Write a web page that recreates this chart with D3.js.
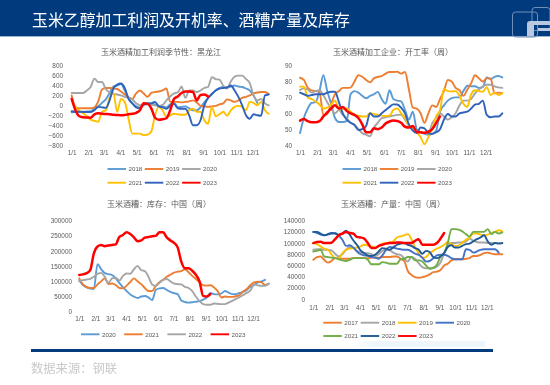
<!DOCTYPE html>
<html><head><meta charset="utf-8">
<script src="https://cdn.jsdelivr.net/npm/d3@7/dist/d3.min.js"></script>
<style>html,body{margin:0;padding:0;background:#fff}svg{display:block;filter:blur(0.5px)}text{font-family:"Noto Sans CJK SC","Noto Sans",sans-serif}</style>
</head><body><svg id="c" width="550" height="385"></svg>
<script>
const headerTitle="玉米乙醇加工利润及开机率、酒糟产量及库存";
const sourceNote="数据来源：钢联";
const monthLabels=["1/1","2/1","3/1","4/1","5/1","6/1","7/1","8/1","9/1","10/1","11/1","12/1"];
const monthStartDays=[0,31,59,90,120,151,181,212,243,273,304,334];

const profitTicks=[-800,-600,-400,-200,0,200,400,600,800];
const profit2018=[-140,-130,-130,-130,-125,-120,-60,-20,50,120,250,380,400,430,300,150,40,-20,-40,30,50,40,20,-10,-20,-40,20,60,-40,-30,-20,-60,-100,-100,-40,60,150,230,300,350,370,360,380,400,380,370,340,300,200,50];
const profit2019=[200,-40,-60,-60,-60,-60,-40,80,320,350,350,340,330,280,220,160,130,240,300,240,170,250,270,280,300,340,70,70,70,60,70,80,100,60,-10,-20,-30,-20,-10,20,40,120,100,70,100,150,170,200,240,260,270,270,230];
const profit2020=[250,250,250,250,300,370,540,470,470,330,260,230,220,200,170,150,120,40,0,20,20,10,0,-10,10,100,180,240,260,380,150,300,300,270,300,350,370,570,530,520,400,340,480,580,600,600,530,450,200,100,130,40,0];
const profit2021=[100,-30,-110,-160,-220,-290,-310,-330,-130,-100,150,250,-130,130,70,-270,-570,-570,-570,-600,-590,-530,-200,-30,-100,-230,-200,-170,-180,-190,-190,-100,-70,-130,-130,-300,-370,-30,-220,-180,-130,-210,-100,-30,-10,-30,-100,70,50,0,70,-100,-170];
const profit2022=[-120,-130,-130,-135,-135,-135,-100,-30,-40,-50,100,340,420,440,350,130,40,-40,-60,10,30,40,70,-20,-40,-70,-10,30,-60,-70,-70,-200,-400,-400,-300,0,150,230,300,340,350,360,400,300,170,0,-200,-270,-180,-200,-210,200,220];
const profit2023=[130,-100,-220,-240,-245,-250,-180,-160,-170,-175,-180,-190,-195,-200,-195,-180,-170,-150,-100,40,30,-60,-250,-290,-280,-260,-100,130,180,250,280,280,270,100,210,220,180];

const rateTicks=[40,50,60,70,80,90];
const rate2018=[47.5,57,63,66.5,67,74,84,74,66,57,54.5,54.5,55,72,74,73,71,69.5,71,72,73.5,69,66,74.5,69,68,67.5,62,56,61,50,48,47,46.5,47,49,61,65,68,69.5,70,70,74,77.4,77,77,76,76.5,82.6,81.5,83,83.5,82.6];
const rate2019=[82.4,81,76,74.5,74,73.5,59,59.5,66,72,74,76,76,76.2,80,84,83,81,79.5,82,83,83.5,85,86,86,86.2,85,86,75,63.5,63,60,54,60,65,64,69,74,81,80,76,74.5,71,75,79,84,82,80,82,82,72.6,73,72.6];
const rate2020=[74.7,75.7,75,73,74,74.5,71.5,67,63,60,62,59,57,54,53,50,47.5,46.5,45.5,51,54,57,57.5,58,58.5,59,59,56,52,49.5,49,48,47.5,47,53.7,57,60,58,56,57.5,60,65,68,68,69,72.6,75,77,78,78,77,76.3,76];
const rate2021=[76.8,76.8,70,69,67.5,65.5,63,63.5,65.5,68,63,62.5,63,61,59,58.5,58,58,60,59.5,59,58.5,58.3,58.5,62,63,60,57,52,50.5,48,45,40.5,45,50.5,58,62,75.5,74,73.8,74,71,66,64,72,74.5,74,73.6,76.5,71.5,73,71.5,72.6];
const rate2022=[73,72,71,71.5,72,72,72,73,73.6,73.6,67,60,56,54,52.5,49.5,50,52,60,58,58,60,62,64,65.6,65.5,63.5,60,53,49,47.5,51,50.5,47.5,47,48,50,56,59.5,58,58,60,60.5,61,63,65.5,66,68,59,57.5,58,58,60];
const rate2023=[55.4,56.4,55,54.3,54.3,55,58,60.5,63,65,63,64,61.5,60,59,57,53,48,48,50.5,50,51,53.5,54.8,55.4,55.2,54,51.5,51,52,48.2,48,47.8,48.5,50,54,58];

const stockTicks=[0,50000,100000,150000,200000,250000,300000];
const stock2020=[104000,88000,80000,76000,75000,157000,140000,127000,124000,121000,110000,95000,80000,68000,57000,50000,45000,50000,52000,47000,38000,72000,77000,78000,72000,65000,61000,58000,37000,32000,30000,31000,33000,35000,40000,47000,62000,58000,57000,60000,68000,63000,58000,58000,62000,65000,72000,82000,88000,97000,100000,105000];
const stock2021=[110000,90000,82000,78000,78000,90000,100000,110000,91000,93000,88000,78000,77000,86000,98000,110000,100000,91000,78000,68000,68000,85000,97000,105000,115000,122000,129000,132000,134000,140000,130000,118000,108000,97000,87000,86000,87000,80000,68000,47000,50000,49000,49000,51000,55000,67000,75000,88000,97000,99000,97000,88000,92000];
const stock2022=[100000,104000,106000,108000,115000,125000,128000,115000,95000,110000,112000,103000,118000,126000,125000,140000,151000,137000,134000,115000,90000,85000,95000,105000,108000,100000,93000,91000,90000,82000,78000,68000,50000,35000,25000,23000,23000,27000,26000,25000,25000,30000,36000,42000,48000,55000,62000,70000,90000,87000,85000,85000,93000];
const stock2023=[121000,123000,127000,137000,192000,215000,220000,216000,218000,220000,222000,247000,253000,262000,256000,245000,232000,235000,244000,246000,249000,250000,262000,262000,245000,235000,227000,212000,165000,143000,143000,135000,122000,100000,52000,50000,58000];

const outputTicks=[0,20000,40000,60000,80000,100000,120000,140000];
const output2017=[70,75,76,70,65,68,73,73,72,72,72,73,73,73,73,73,74,74,74,75,75,75,76,76,72,68,50,43,39,38,39,41,44,48,49,52,60,63,69,71,71,71,72,73,77,77,79,82,83,81,80,80,80];
const output2018=[88,89,89,88,88,87,81,76,80,88,93,92,86,83,82,82,80,77,80,86,88,87,83,80,79,73,67,75,72,64,57,55,55,55,58,65,82,95,100,100,101,101,103,108,104,102,101,101,100,100,100,100,100];
const output2019=[100,98,94,90,88,80,73,73,82,88,90,91,92,94,97,96,94,92,94,99,100,101,103,110,112,114,116,107,92,82,74,75,82,86,90,93,97,102,98,95,96,101,106,110,117,117,115,114,115,118,120,123,121];
const output2020=[120,118,115,114,115,117,118,113,106,95,96,92,85,80,78,77,75,74,72,78,88,93,92,90,89,88,88,85,81,79,74,67,68,73,78,79,79,77,73,71,71,71,89,88,83,85,88,89,89,89,89,83];
const output2021=[85,86,88,76,75,74,73,71,69,68,70,73,73,73,73,70,62,62,62,66,65,63,63,63,71,72,75,75,69,69,67,60,54,56,61,76,82,100,125,125,124,121,116,112,120,120,120,120,125,116,120,117,119];
const output2022=[120,120,117,114,116,118,117,115,117,122,115,105,97,87,82,78,77,79,85,91,90,88,92,97,99,100,97,95,91,88,81,86,84,75,73,76,82,93,96,92,92,95,98,99,103,107,110,114,103,97,100,99,100];
const output2023=[100,102,102.5,100,100,100.7,107,114,117,120,118,117,111,110,108,100,91,91,95,97,99,100,100,101,101,100,100,100,104,107,97,97,97,97,100,108,118];
const outputUnit=1000;

const colors={blue:"#5b9bd5",orange:"#ed7d31",gray:"#a5a5a5",yellow:"#ffc000",royal:"#2f62bb",green:"#70ad47",navy:"#1f5a96",red:"#ff0000"};
const svg=d3.select("#c");
svg.append("rect").attr("x",0).attr("y",0).attr("width",550).attr("height",36).attr("fill","#013a7d");
svg.append("rect").attr("x",0).attr("y",36).attr("width",550).attr("height",1).attr("fill","#9db4d2");
svg.append("text").attr("x",32).attr("y",26).attr("fill","#fff").attr("font-size",15.9).text(headerTitle);
const logo=svg.append("g").attr("fill","none").attr("stroke","#6f8fbb").attr("stroke-width",1);
logo.append("rect").attr("x",512.5).attr("y",12).attr("width",25).attr("height",25).attr("rx",3);
logo.append("rect").attr("x",532).attr("y",7.5).attr("width",18).attr("height",23).attr("rx",3);
svg.append("path").attr("d","M527 36V24q0-3 3-3H550V25H534V36Z").attr("fill","#b8c8e0");
svg.append("rect").attr("x",538).attr("y",28).attr("width",12).attr("height",3).attr("fill","#b8c8e0");

function chart(o){
  const g=svg.append("g");
  const x=d3.scaleLinear().domain([0,364]).range([o.x0,o.x1]);
  const y=d3.scaleLinear().domain(d3.extent(o.ticks)).range([o.yBottom,o.yTop]);
  g.append("text").attr("x",o.titleX).attr("y",o.titleY).attr("text-anchor","middle").attr("font-size",8).attr("fill","#595959").text(o.title);
  const ya=g.append("g").attr("transform",`translate(${o.yLabelX},0)`).call(d3.axisLeft(y).tickValues(o.ticks).tickSize(0).tickPadding(0).tickFormat(d3.format("d")));
  ya.select(".domain").remove();
  ya.selectAll("text").attr("font-size",6.4).attr("fill","#595959").style("font-family",'"Liberation Sans",sans-serif');
  const xa=g.append("g").attr("transform",`translate(0,${o.xLabelY})`).call(d3.axisBottom(x).tickValues(monthStartDays).tickSize(0).tickPadding(0).tickFormat((d,i)=>monthLabels[i]));
  xa.select(".domain").remove();
  xa.selectAll("text").attr("font-size",6.4).attr("fill","#595959").style("font-family",'"Liberation Sans",sans-serif');
  const line=d3.line().x((d,i)=>x(i*7)).y(d=>y(d)).curve(d3.curveMonotoneX);
  o.series.forEach(s=>{
    g.append("path").attr("d",line(s.values)).attr("fill","none").attr("stroke",s.color).attr("stroke-width",s.color===colors.red?2.5:1.9).attr("stroke-linejoin","round").attr("stroke-linecap","round");
  });
  o.series.forEach((s,i)=>{
    const row=Math.floor(i/o.perRow), col=i%o.perRow;
    const lx=o.legX+col*o.legDx, ly=o.legY[row];
    g.append("line").attr("x1",lx).attr("x2",lx+18.5).attr("y1",ly).attr("y2",ly).attr("stroke",s.color).attr("stroke-width",1.9);
    g.append("text").attr("x",lx+21).attr("y",ly+2.2).attr("font-size",6.2).attr("fill","#595959").style("font-family",'"Liberation Sans",sans-serif').text(s.name);
  });
}
chart({title:"玉米酒精加工利润季节性：黑龙江",titleX:161,titleY:54.7,x0:71.7,x1:268.7,yTop:65.7,yBottom:145,yLabelX:63,xLabelY:150,ticks:profitTicks,legX:107.5,legDx:37.3,perRow:3,legY:[169,182.7],
 series:[{name:"2018",color:colors.blue,values:profit2018},{name:"2019",color:colors.orange,values:profit2019},{name:"2020",color:colors.gray,values:profit2020},{name:"2021",color:colors.yellow,values:profit2021},{name:"2022",color:colors.royal,values:profit2022},{name:"2023",color:colors.red,values:profit2023}]});
chart({title:"玉米酒精加工企业：开工率（周）",titleX:393,titleY:54.7,x0:300,x1:502.3,yTop:65.7,yBottom:145,yLabelX:292,xLabelY:150,ticks:rateTicks,legX:342.5,legDx:37.3,perRow:3,legY:[169,182.7],
 series:[{name:"2018",color:colors.blue,values:rate2018},{name:"2019",color:colors.orange,values:rate2019},{name:"2020",color:colors.gray,values:rate2020},{name:"2021",color:colors.yellow,values:rate2021},{name:"2022",color:colors.royal,values:rate2022},{name:"2023",color:colors.red,values:rate2023}]});
chart({title:"玉米酒糟：库存：中国（周）",titleX:159,titleY:207,x0:79.3,x1:268.7,yTop:220.7,yBottom:311.7,yLabelX:72,xLabelY:316,ticks:stockTicks,legX:81,legDx:43.2,perRow:4,legY:[334.3],
 series:[{name:"2020",color:colors.blue,values:stock2020},{name:"2021",color:colors.orange,values:stock2021},{name:"2022",color:colors.gray,values:stock2022},{name:"2023",color:colors.red,values:stock2023}]});
chart({title:"玉米酒糟：产量：中国（周）",titleX:393,titleY:207,x0:313.3,x1:502.3,yTop:220.7,yBottom:299,yLabelX:305,xLabelY:305,ticks:outputTicks,legX:323.3,legDx:37.4,perRow:4,legY:[322.7,336],
 series:[{name:"2017",color:colors.orange,values:output2017.map(v=>v*outputUnit)},{name:"2018",color:colors.gray,values:output2018.map(v=>v*outputUnit)},{name:"2019",color:colors.yellow,values:output2019.map(v=>v*outputUnit)},{name:"2020",color:"#4472c4",values:output2020.map(v=>v*outputUnit)},{name:"2021",color:colors.green,values:output2021.map(v=>v*outputUnit)},{name:"2022",color:colors.navy,values:output2022.map(v=>v*outputUnit)},{name:"2023",color:colors.red,values:output2023.map(v=>v*outputUnit)}]});

const grad=svg.append("defs").append("linearGradient").attr("id","fade").attr("x1",0).attr("x2",1);
grad.append("stop").attr("offset",0).attr("stop-color","#eef5fb").attr("stop-opacity",0);
grad.append("stop").attr("offset",0.2).attr("stop-color","#eef5fb");
svg.append("rect").attr("x",350).attr("y",341).attr("width",135).attr("height",6).attr("fill","url(#fade)");
svg.append("rect").attr("x",31).attr("y",349).attr("width",462).attr("height",3).attr("fill","#013a7d");
svg.append("text").attr("x",31).attr("y",373).attr("font-size",12.3).attr("fill","#c9c9c9").text(sourceNote);
</script></body></html>
